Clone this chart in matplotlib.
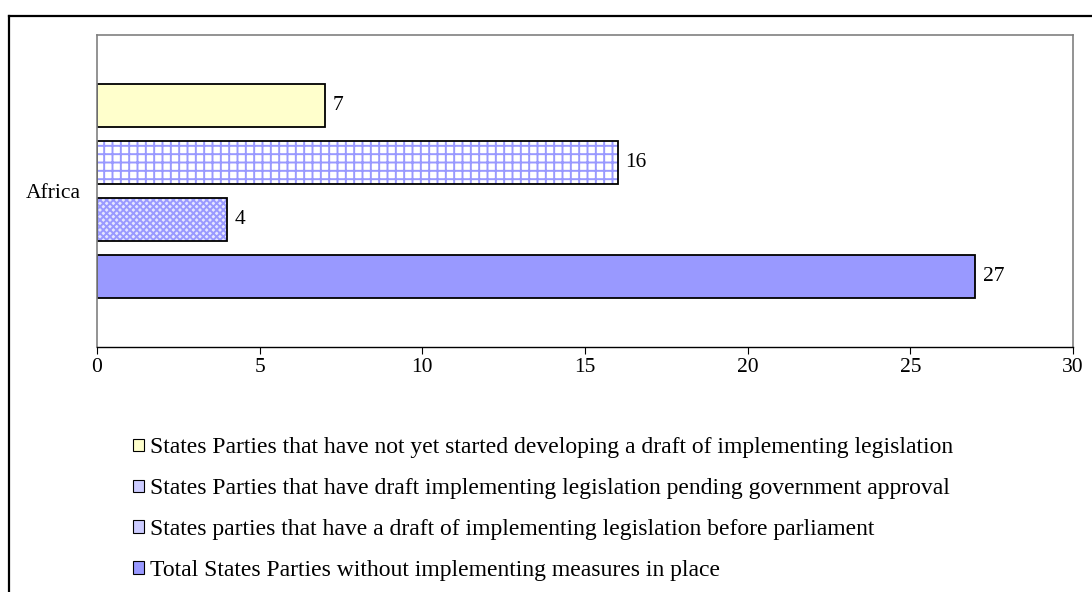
import matplotlib.pyplot as plt
from matplotlib.lines import Line2D
from matplotlib.patches import Patch

plt.rcParams['font.family'] = ['Liberation Serif', 'DejaVu Serif']
plt.rcParams['hatch.linewidth'] = 1.4

categories = ['Africa']
series_labels = [
    'States Parties that have not yet started developing a draft of implementing legislation',
    'States Parties that have draft implementing legislation pending government approval',
    'States parties that have a draft of implementing legislation before parliament',
    'Total States Parties without implementing measures in place',
]
values = [7, 16, 4, 27]
x_ticks = [0, 5, 10, 15, 20, 25, 30]

faces = ['#FFFFCC', 'white', '#E6E6FF', '#9999FF']
hatches = [None, '++', 'xxxxx', None]
blue = '#9999FF'

fig = plt.figure(figsize=(10.92, 5.92), dpi=100)
ax = fig.add_axes([97 / 1092, 1 - 347 / 592, (1073 - 97) / 1092, (347 - 35) / 592])

step = 0.183
height = 0.138
handles = []
for i, (lab, val) in enumerate(zip(series_labels, values)):
    yc = 0.5 + (1.5 - i) * step
    if hatches[i]:
        ax.barh(yc, val, height=height, color=faces[i], edgecolor=blue,
                hatch=hatches[i], linewidth=0)
        ax.barh(yc, val, height=height, fill=False, edgecolor='black', linewidth=1.3)
    else:
        ax.barh(yc, val, height=height, color=faces[i], edgecolor='black', linewidth=1.3)
    ax.annotate(str(val), (val, yc), xytext=(5.5, 0), textcoords='offset points',
                va='center', ha='left', fontsize=15.5)
    handles.append(Patch(facecolor=faces[i] if not hatches[i] else '#CCCCFF',
                         edgecolor='black', linewidth=0.8, label=lab))

ax.set_xlim(0, 30)
ax.set_ylim(0, 1)
ax.set_xticks(x_ticks)
ax.set_yticks([0.5])
ax.set_yticklabels(categories)
ax.tick_params(axis='y', length=0, pad=12, labelsize=15.5)
ax.tick_params(axis='x', direction='out', length=5, width=0.8, pad=3, labelsize=15.5)
for s in ['left', 'top', 'right']:
    ax.spines[s].set_color('#808080')
    ax.spines[s].set_linewidth(1.2)
ax.spines['bottom'].set_color('black')
ax.spines['bottom'].set_linewidth(1.0)

fig.legend(handles=handles, loc='upper left', bbox_to_anchor=(124 / 1092, 1 - 428 / 592),
           frameon=False, fontsize=17, handlelength=0.45, handleheight=0.45,
           handletextpad=0.25, labelspacing=0.84, borderaxespad=0)

# outer chart frame (top and left edges visible)
fig.add_artist(Line2D([8.5 / 1092, 1], [1 - 15.5 / 592, 1 - 15.5 / 592], color='black', lw=1.6))
fig.add_artist(Line2D([8.5 / 1092, 8.5 / 1092], [0, 1 - 15.5 / 592], color='black', lw=1.6))

plt.savefig('out.png', dpi=100)
